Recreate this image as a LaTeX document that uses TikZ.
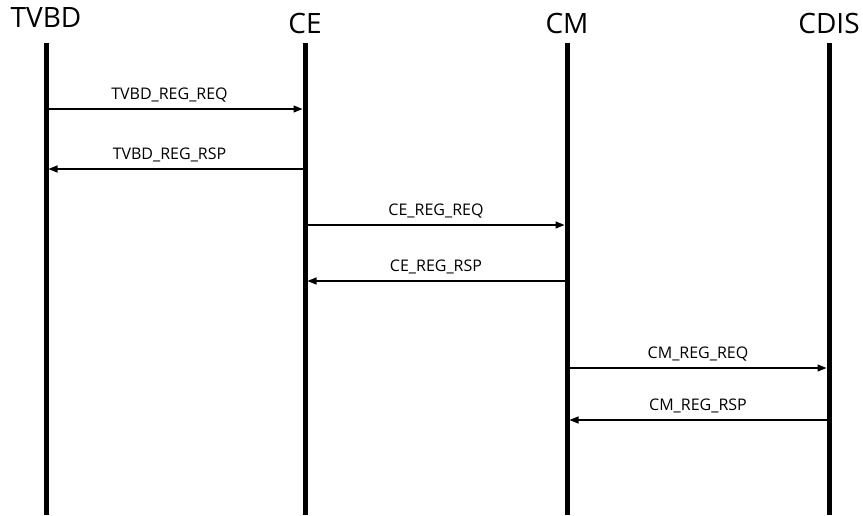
\documentclass[tikz,border=0pt]{standalone}
\usepackage{fontspec}
\setmainfont{Open Sans}
\usetikzlibrary{arrows.meta,positioning}

\begin{document}
\begin{tikzpicture}[
    x=1pt, y=-1pt,
    actor/.style={font=\fontsize{28}{30}\selectfont, anchor=base, inner sep=0pt},
    life/.style={line width=5pt},
    msg/.style={-{Triangle[length=9pt,width=7pt]}, line width=1.2pt, shorten <=2.5pt, shorten >=2.5pt},
    lbl/.style={font=\fontsize{16}{18}\selectfont, anchor=base, yshift=10pt, inner sep=0pt},
]
\useasboundingbox (0,0) rectangle (863,515);

% Actors
\node[actor] (tvbd) at (46,27) {TVBD};
\node[actor] (ce) at (305,33) {CE};
\node[actor] (cm) at (567,33) {CM};
\node[actor] (cdis) at (829,33) {CDIS};

% Lifelines
\coordinate (top) at (0,43);
\coordinate (bot) at (0,515);
\draw[life] (tvbd |- top) -- (tvbd |- bot);
\draw[life] (ce |- top) -- (ce |- bot);
\draw[life] (cm |- top) -- (cm |- bot);
\draw[life] (cdis |- top) -- (cdis |- bot);

% Message rows
\coordinate (m1) at (0,109);
\coordinate (m2) at (0,169);
\coordinate (m3) at (0,225);
\coordinate (m4) at (0,281);
\coordinate (m5) at (0,368);
\coordinate (m6) at (0,420);

% TVBD <-> CE
\draw[msg] (tvbd |- m1) -- (ce |- m1) node[lbl, midway, xshift=-6pt] {TVBD\_REG\_REQ};
\draw[msg] (ce |- m2) -- (tvbd |- m2) node[lbl, midway, xshift=-6pt] {TVBD\_REG\_RSP};

% CE <-> CM
\draw[msg] (ce |- m3) -- (cm |- m3) node[lbl, midway] {CE\_REG\_REQ};
\draw[msg] (cm |- m4) -- (ce |- m4) node[lbl, midway] {CE\_REG\_RSP};

% CM <-> CDIS
\draw[msg] (cm |- m5) -- (cdis |- m5) node[lbl, midway] {CM\_REG\_REQ};
\draw[msg] (cdis |- m6) -- (cm |- m6) node[lbl, midway] {CM\_REG\_RSP};

\end{tikzpicture}
\end{document}
